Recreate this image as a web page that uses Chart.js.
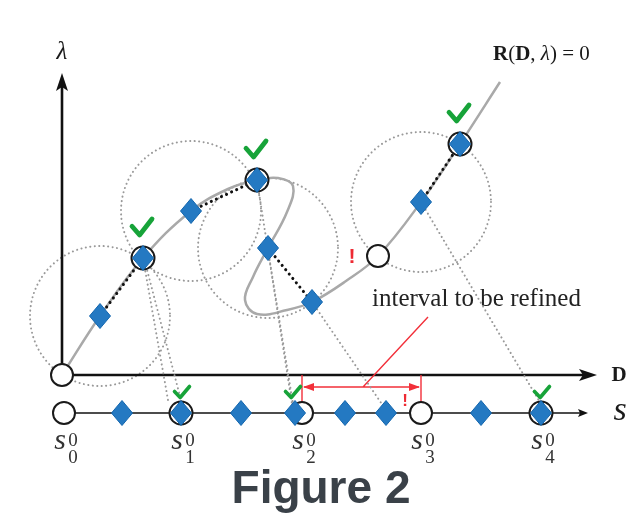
<!DOCTYPE html>
<html>
<head>
<meta charset="utf-8">
<script src="https://cdn.jsdelivr.net/npm/chart.js@4.4.1/dist/chart.umd.min.js"></script>
<style>
  html, body { margin: 0; padding: 0; background: #fff; overflow: hidden; }
</style>
</head>
<body>
<canvas id="fig" width="643" height="513"></canvas>
<script>
// solution branch R(D, lambda) = 0 (D across, lambda up)
const curveD      = [0, 0.76, 1.62, 2.58, 3.32, 3.9, 4.32, 4.62, 4.5, 4.12, 3.82, 3.66, 3.9, 4.5, 5.0, 5.68, 6.32, 7.18, 7.96, 8.76];
const curveLambda = [0, 1.18, 2.34, 3.28, 3.72, 3.9, 3.94, 3.78, 3.26, 2.54, 1.96, 1.5, 1.22, 1.3, 1.46, 1.88, 2.38, 3.46, 4.62, 5.86];

// predictor points (blue diamonds) and converged points (ringed diamonds)
const predD = [0.76, 2.58, 4.12, 5.0, 7.18];
const predLambda = [1.18, 3.28, 2.54, 1.46, 3.46];
const corrD = [1.62, 3.9, 7.96];
const corrLambda = [2.34, 3.9, 4.62];
const openD = [0, 6.32];
const openLambda = [0, 2.38];

// predictor steps (black dotted)
const stepFromD = [0.76, 2.58, 4.12, 7.18];
const stepFromL = [1.18, 3.28, 2.54, 3.46];
const stepToD   = [1.62, 3.9, 5.0, 7.96];
const stepToL   = [2.34, 3.9, 1.46, 4.62];

// trust regions (dotted circles) around predictors
const circleD = [0.76, 2.58, 4.12, 7.18];
const circleL = [1.18, 3.28, 2.54, 3.46];
const circleR = 1.4;

// projections onto the s axis (grey dotted)
const projFromD = [1.62, 1.66, 3.9, 4.12, 5.0, 7.18];
const projFromL = [2.34, 2.26, 3.9, 2.5, 1.46, 3.46];
const projToD   = [2.12, 2.4, 4.6, 4.64, 6.48, 9.58];
const projToL   = [-0.5, -0.58, -0.58, -0.7, -0.7, -0.58];

// arc-length axis s
const sLevel = -0.76;
const sTicks = [0.04, 2.38, 4.8, 7.18, 9.58];
const sTickLabels = ['0', '1', '2', '3', '4'];
const sOpen = [0.04, 4.8, 7.18];
const sRinged = [2.38, 9.58];
const sDiamonds = [1.2, 2.38, 3.58, 4.66, 5.66, 6.48, 8.38, 9.58];
const sChecks = [2.38, 4.6, 9.58];
const curveChecks = [[1.62, 2.34], [3.9, 3.9], [7.96, 4.62]];
const refineFrom = 4.8, refineTo = 7.18;

const axisTipLambda = 6.04, axisTipD = 10.7, sAxisTip = 10.52;

const pts = (xs, ys) => xs.map((x, i) => ({ x: x, y: ys[i] }));

// diamond marker, a bit taller than wide
function diamondImage() {
  const c = document.createElement('canvas');
  c.width = 22; c.height = 26;
  const g = c.getContext('2d');
  g.beginPath();
  g.moveTo(11, 0.5); g.lineTo(21.5, 13); g.lineTo(11, 25.5); g.lineTo(0.5, 13); g.closePath();
  g.fillStyle = '#2479c2';
  g.fill();
  g.strokeStyle = '#1467ae';
  g.lineWidth = 1;
  g.stroke();
  return c;
}
const diamond = diamondImage();

const datasets = [];
datasets.push({
  data: pts(curveD, curveLambda), showLine: true, tension: 0.4,
  borderColor: '#a9a9a9', borderWidth: 2.5, pointRadius: 0, order: 20
});
stepFromD.forEach((d, i) => {
  datasets.push({
    data: [{ x: d, y: stepFromL[i] }, { x: stepToD[i], y: stepToL[i] }], showLine: true,
    borderColor: '#111', borderWidth: 3, borderDash: [0.1, 5.5], borderCapStyle: 'round',
    pointRadius: 0, order: 15
  });
});
projFromD.forEach((d, i) => {
  datasets.push({
    data: [{ x: d, y: projFromL[i] }, { x: projToD[i], y: projToL[i] }], showLine: true,
    borderColor: '#999', borderWidth: 2, borderDash: [0.1, 4.4], borderCapStyle: 'round',
    pointRadius: 0, order: 18
  });
});
// open circles and rings
datasets.push({
  data: pts(openD, openLambda).concat(sOpen.map(s => ({ x: s, y: sLevel }))),
  pointStyle: 'circle', pointRadius: 11, backgroundColor: '#fff', borderColor: '#1a1a1a', borderWidth: 2, order: 5
});
datasets.push({
  data: pts(corrD, corrLambda).concat(sRinged.map(s => ({ x: s, y: sLevel }))),
  pointStyle: 'circle', pointRadius: 11.5, backgroundColor: '#fff', borderColor: '#1a1a1a', borderWidth: 2, order: 4
});
// diamonds
datasets.push({
  data: pts(predD, predLambda).concat(pts(corrD, corrLambda)).concat(sDiamonds.map(s => ({ x: s, y: sLevel }))),
  pointStyle: diamond, pointRadius: 11, order: 1
});

const figurePlugin = {
  id: 'figure',
  beforeDatasetsDraw(chart) {
    const ctx = chart.ctx, X = chart.scales.x, Y = chart.scales.y;
    const unit = X.getPixelForValue(1) - X.getPixelForValue(0);
    ctx.save();
    // dotted trust-region circles
    ctx.strokeStyle = '#999';
    ctx.lineWidth = 2;
    ctx.lineCap = 'round';
    ctx.setLineDash([0.1, 4.4]);
    circleD.forEach((d, i) => {
      ctx.beginPath();
      ctx.arc(X.getPixelForValue(d), Y.getPixelForValue(circleL[i]), circleR * unit, 0, Math.PI * 2);
      ctx.stroke();
    });
    ctx.setLineDash([]);

    // axes
    const ox = X.getPixelForValue(0), oy = Y.getPixelForValue(0);
    ctx.strokeStyle = '#111'; ctx.fillStyle = '#111'; ctx.lineWidth = 2.6; ctx.lineCap = 'butt';
    const ly = Y.getPixelForValue(axisTipLambda);
    ctx.beginPath(); ctx.moveTo(ox, oy); ctx.lineTo(ox, ly + 12); ctx.stroke();
    ctx.beginPath(); ctx.moveTo(ox, ly); ctx.lineTo(ox - 6, ly + 18); ctx.lineTo(ox, ly + 14); ctx.lineTo(ox + 6, ly + 18); ctx.closePath(); ctx.fill();
    const dx = X.getPixelForValue(axisTipD);
    ctx.beginPath(); ctx.moveTo(ox, oy); ctx.lineTo(dx - 12, oy); ctx.stroke();
    ctx.beginPath(); ctx.moveTo(dx, oy); ctx.lineTo(dx - 18, oy - 6); ctx.lineTo(dx - 14, oy); ctx.lineTo(dx - 18, oy + 6); ctx.closePath(); ctx.fill();

    const sy = Y.getPixelForValue(sLevel), sx = X.getPixelForValue(sAxisTip);
    ctx.lineWidth = 1.3;
    ctx.beginPath(); ctx.moveTo(X.getPixelForValue(sTicks[0]), sy); ctx.lineTo(sx - 5, sy); ctx.stroke();
    ctx.beginPath(); ctx.moveTo(sx, sy); ctx.lineTo(sx - 10, sy - 4); ctx.lineTo(sx - 8, sy); ctx.lineTo(sx - 10, sy + 4); ctx.closePath(); ctx.fill();

    // refine interval bracket
    const rx0 = X.getPixelForValue(refineFrom), rx1 = X.getPixelForValue(refineTo);
    const by = oy + 12;
    ctx.strokeStyle = '#f2303a'; ctx.fillStyle = '#f2303a'; ctx.lineWidth = 1.4;
    ctx.beginPath();
    ctx.moveTo(rx0, oy); ctx.lineTo(rx0, sy - 11);
    ctx.moveTo(rx1, oy); ctx.lineTo(rx1, sy - 11);
    ctx.moveTo(rx0 + 2, by); ctx.lineTo(rx1 - 2, by);
    ctx.moveTo(rx0 + 61, by); ctx.lineTo(rx0 + 126, by - 70);
    ctx.stroke();
    [[rx0 + 1, 1], [rx1 - 1, -1]].forEach(([ax, dir]) => {
      ctx.beginPath(); ctx.moveTo(ax, by); ctx.lineTo(ax + dir * 11, by - 4); ctx.lineTo(ax + dir * 11, by + 4); ctx.closePath(); ctx.fill();
    });
    ctx.restore();
  },
  afterDatasetsDraw(chart) {
    const ctx = chart.ctx, X = chart.scales.x, Y = chart.scales.y;
    ctx.save();
    const check = (cx, cy, w, h, lw) => {
      ctx.strokeStyle = '#17a339'; ctx.lineWidth = lw; ctx.lineCap = 'round'; ctx.lineJoin = 'round';
      ctx.beginPath();
      ctx.moveTo(cx - w / 2, cy - h * 0.05);
      ctx.lineTo(cx - w * 0.12, cy + h / 2);
      ctx.lineTo(cx + w / 2, cy - h / 2);
      ctx.stroke();
    };
    curveChecks.forEach(([d, l]) => check(X.getPixelForValue(d) - 1, Y.getPixelForValue(l) - 31, 20, 16, 4.8));
    const sy = Y.getPixelForValue(sLevel);
    sChecks.forEach(s => check(X.getPixelForValue(s) + 1, sy - 21, 15, 11, 3.6));

    ctx.fillStyle = '#ee2a33';
    ctx.textAlign = 'center'; ctx.textBaseline = 'middle';
    ctx.font = 'bold 21px "Liberation Sans"';
    ctx.fillText('!', X.getPixelForValue(openD[1]) - 26, Y.getPixelForValue(openLambda[1]) + 1);
    ctx.font = 'bold 17px "Liberation Sans"';
    ctx.fillText('!', X.getPixelForValue(refineTo) - 16, sy - 12);

    ctx.fillStyle = '#1a1a1a';
    ctx.font = 'italic 25px "Liberation Serif"';
    ctx.fillText('\u03bb', X.getPixelForValue(0), 52);
    ctx.font = 'bold 21px "Liberation Serif"';
    ctx.fillText('D', 619, Y.getPixelForValue(0) + 1);
    ctx.font = 'italic 34px "Liberation Serif"';
    ctx.fillText('s', 620, sy - 2);

    // R(D, lambda) = 0
    ctx.textAlign = 'left'; ctx.textBaseline = 'alphabetic';
    let x = 493;
    [['bold 21px "Liberation Serif"', 'R'], ['21px "Liberation Serif"', '('], ['bold 21px "Liberation Serif"', 'D'],
     ['21px "Liberation Serif"', ', '], ['italic 21px "Liberation Serif"', '\u03bb'], ['21px "Liberation Serif"', ') = 0']]
      .forEach(([f, t]) => { ctx.font = f; ctx.fillText(t, x, 60); x += ctx.measureText(t).width; });

    ctx.font = '25px "Liberation Serif"';
    ctx.fillStyle = '#222';
    ctx.fillText('interval to be refined', 372, 306);

    // s_k^0 labels
    sTicks.forEach((s, i) => {
      const px = X.getPixelForValue(s);
      ctx.fillStyle = '#333';
      ctx.textAlign = 'center';
      ctx.font = 'italic 30px "Liberation Serif"';
      ctx.fillText('s', px - 4, 449);
      ctx.font = '19px "Liberation Serif"';
      ctx.fillText('0', px + 9, 446);
      ctx.fillText(sTickLabels[i], px + 9, 463);
    });

    ctx.fillStyle = '#3a4148';
    ctx.textAlign = 'center';
    ctx.font = 'bold 46px "Liberation Sans"';
    ctx.fillText('Figure 2', 321, 503);
    ctx.restore();
  }
};

new Chart(document.getElementById('fig'), {
  type: 'scatter',
  data: { datasets: datasets },
  options: {
    responsive: false,
    animation: false,
    layout: { padding: 0, autoPadding: false },
    plugins: { legend: { display: false }, tooltip: { enabled: false } },
    scales: {
      x: { type: 'linear', min: -1.24, max: 11.62, display: false },
      y: { type: 'linear', min: -2.76, max: 7.5, display: false }
    }
  },
  plugins: [figurePlugin]
});
</script>
</body>
</html>
